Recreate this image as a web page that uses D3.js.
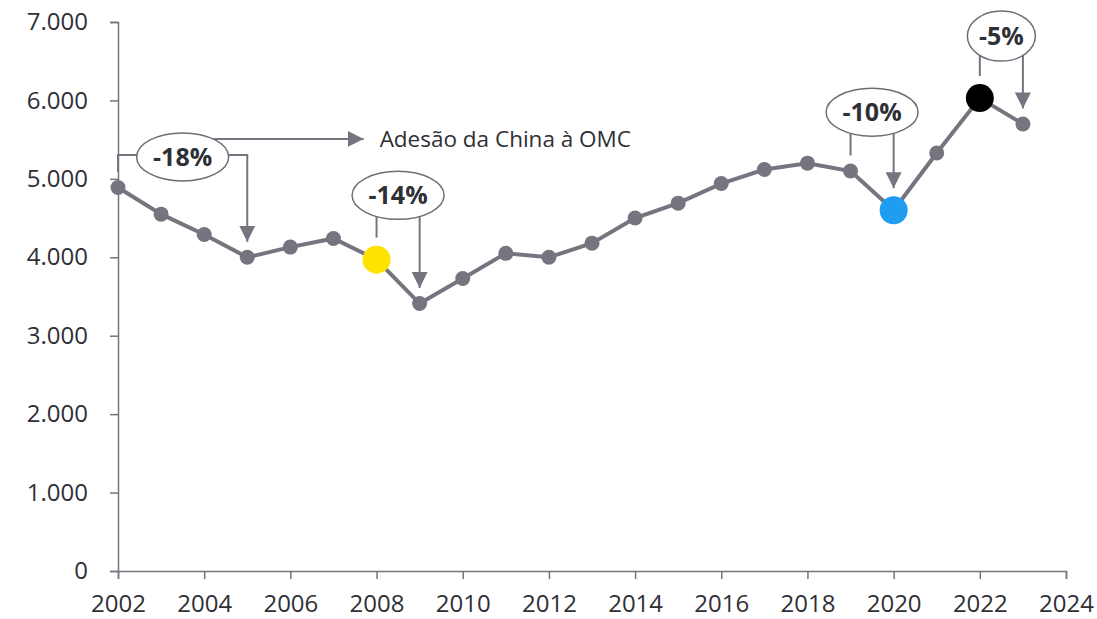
<!DOCTYPE html>
<html>
<head>
<meta charset="utf-8">
<script src="https://cdn.jsdelivr.net/npm/d3@7"></script>
<style>
  html, body { margin: 0; padding: 0; background: #fff; }
  svg { display: block; font-family: "Open Sans", "DejaVu Sans", sans-serif; }
</style>
</head>
<body>
<svg id="chart" width="1097" height="619"></svg>
<script>
// ---- data ----
const years = [2002, 2003, 2004, 2005, 2006, 2007, 2008, 2009, 2010, 2011, 2012,
               2013, 2014, 2015, 2016, 2017, 2018, 2019, 2020, 2021, 2022, 2023];
const values = [4890, 4550, 4290, 4000, 4130, 4240, 3970, 3410, 3730, 4050, 4000,
                4180, 4500, 4690, 4940, 5120, 5200, 5100, 4600, 5330, 6030, 5700];
const highlightYears = [2008, 2020, 2022];
const highlightColors = ["#FFE300", "#1E9DF1", "#000000"];
const yTicks = [0, 1000, 2000, 3000, 4000, 5000, 6000, 7000];
const xTicks = [2002, 2004, 2006, 2008, 2010, 2012, 2014, 2016, 2018, 2020, 2022, 2024];
// annotations: label, start year, end year, ellipse centre level
const annLabels = ["-18%", "-14%", "-10%", "-5%"];
const annFrom = [2002, 2008, 2019, 2022];
const annTo = [2005, 2009, 2020, 2023];
const annLevel = [5280, 4790, 5850, 6820];
const noteText = "Adesão da China à OMC";

// ---- layout ----
const svg = d3.select("#chart");
const x = d3.scaleLinear().domain([2002, 2024]).range([118, 1066]);
const y = d3.scaleLinear().domain([0, 7000]).range([571, 22]);
const axisColor = "#76747c";
const lineColor = "#76747f";
const textColor = "#2f2f36";

const loc = d3.formatLocale({decimal: ",", thousands: ".", grouping: [3], currency: ["", ""]});
const fmt = loc.format(",");

// y axis
const gy = svg.append("g").attr("transform", `translate(${x(2002)},0)`)
  .call(d3.axisLeft(y).tickValues(yTicks).tickFormat(fmt).tickSize(8).tickPadding(22));
// x axis
const gx = svg.append("g").attr("transform", `translate(0,${y(0)})`)
  .call(d3.axisBottom(x).tickValues(xTicks).tickFormat(d3.format("d")).tickSize(8).tickPadding(16));
[gx, gy].forEach(g => {
  g.select(".domain").attr("stroke", axisColor).attr("stroke-width", 1.5);
  g.selectAll(".tick line").attr("stroke", axisColor).attr("stroke-width", 1.5);
  g.selectAll(".tick text").attr("fill", textColor).style("font-size", "24px")
    .style("font-family", '"Open Sans", sans-serif');
});

// arrowhead marker
const defs = svg.append("defs");
defs.append("marker").attr("id", "arr").attr("viewBox", "0 0 10 10")
  .attr("refX", 10).attr("refY", 5).attr("markerWidth", 16).attr("markerHeight", 16)
  .attr("markerUnits", "userSpaceOnUse").attr("orient", "auto")
  .append("path").attr("d", "M0,0 L10,5 L0,10 Z").attr("fill", lineColor);

// line
const pts = years.map((yr, i) => ({yr, v: values[i]}));
svg.append("path").datum(pts)
  .attr("fill", "none").attr("stroke", lineColor).attr("stroke-width", 4)
  .attr("d", d3.line().x(d => x(d.yr)).y(d => y(d.v)));

const radiusOf = yr => highlightYears.includes(yr) ? 14 : 7.5;
svg.selectAll("circle.pt").data(pts).join("circle")
  .attr("class", "pt")
  .attr("cx", d => x(d.yr)).attr("cy", d => y(d.v))
  .attr("r", d => radiusOf(d.yr))
  .attr("fill", d => {
    const k = highlightYears.indexOf(d.yr);
    return k >= 0 ? highlightColors[k] : lineColor;
  });

// annotations
const valAt = yr => values[years.indexOf(yr)];
annLabels.forEach((lab, i) => {
  const x0 = x(annFrom[i]), x1 = x(annTo[i]);
  const cx = (x0 + x1) / 2, cy = y(annLevel[i]);
  const rx = lab.length <= 3 ? 34 : 46, ry = i === 3 ? 25 : 24;
  const yStart = y(valAt(annFrom[i])) - radiusOf(annFrom[i]) - 8;
  const yEnd = y(valAt(annTo[i])) - radiusOf(annTo[i]) - 8;
  const g = svg.append("g");
  if (i === 0) {
    g.append("path").attr("fill", "none").attr("stroke", lineColor).attr("stroke-width", 2)
      .attr("d", `M${cx - rx},${cy - 2} H${x0} V${yStart}`);
    g.append("path").attr("fill", "none").attr("stroke", lineColor).attr("stroke-width", 2)
      .attr("marker-end", "url(#arr)")
      .attr("d", `M${cx + rx},${cy - 2} H${x1} V${yEnd}`);
    const ny = cy - 18;
    const nx = cx + rx * Math.sqrt(1 - (18 / ry) ** 2);
    g.append("path").attr("fill", "none").attr("stroke", lineColor).attr("stroke-width", 2)
      .attr("marker-end", "url(#arr)")
      .attr("d", `M${nx},${ny} H${cx + 181}`);
    svg.append("text").attr("x", cx + 197).attr("y", ny).attr("dy", "0.35em")
      .attr("fill", textColor).style("font-size", "22.5px").text(noteText);
  } else {
    const b0 = cy + ry * Math.sqrt(Math.max(0, 1 - ((x0 - cx) / rx) ** 2));
    const b1 = cy + ry * Math.sqrt(Math.max(0, 1 - ((x1 - cx) / rx) ** 2));
    g.append("line").attr("stroke", lineColor).attr("stroke-width", 2)
      .attr("x1", x0).attr("x2", x0).attr("y1", b0).attr("y2", yStart);
    g.append("line").attr("stroke", lineColor).attr("stroke-width", 2)
      .attr("marker-end", "url(#arr)")
      .attr("x1", x1).attr("x2", x1).attr("y1", b1).attr("y2", yEnd);
  }
  g.append("ellipse").attr("cx", cx).attr("cy", cy).attr("rx", rx).attr("ry", ry)
    .attr("fill", "#fff").attr("stroke", "#6f6d75").attr("stroke-width", 1.5);
  g.append("text").attr("x", cx).attr("y", cy).attr("dy", "0.36em")
    .attr("text-anchor", "middle").attr("fill", textColor)
    .style("font-size", "25px").style("font-weight", "bold").text(lab);
});
</script>
</body>
</html>
